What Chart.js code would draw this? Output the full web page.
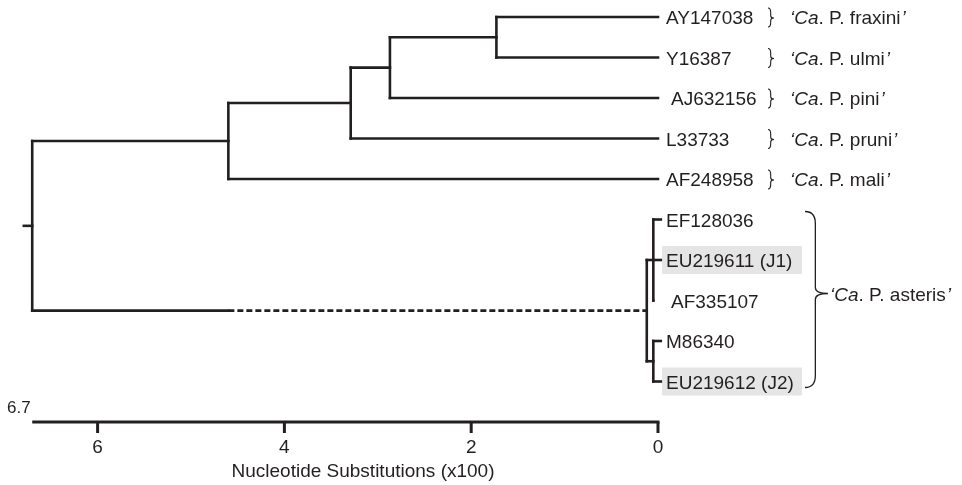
<!DOCTYPE html>
<html>
<head>
<meta charset="utf-8">
<script src="https://cdn.jsdelivr.net/npm/chart.js@4.4.1/dist/chart.umd.min.js"></script>
<style>
  body { margin: 0; background: #fff; }
  #wrap { width: 962px; height: 485px; position: relative; }
</style>
</head>
<body>
<div id="wrap"><canvas id="treeChart"></canvas></div>
<script>
// leaves, top to bottom (row index = y value)
const leafNames = ['AY147038', 'Y16387', 'AJ632156', 'L33733', 'AF248958',
                   'EF128036', 'EU219611 (J1)', 'AF335107', 'M86340', 'EU219612 (J2)'];
const leafDepth = [0, 0, 0, 0, 0, -0.03, -0.03, 0.05, -0.03, -0.03];
const leafParent = ['n4', 'n4', 'n3', 'n2', 'upper', 'astA', 'astA', 'astA', 'astB', 'astB'];

// internal nodes
const nodeNames = ['root', 'upper', 'n2', 'n3', 'n4', 'ast', 'astA', 'astB'];
const nodeDepth = [6.7, 4.6, 3.29, 2.87, 1.73, 0.12, 0.05, 0.05];
const nodeParent = [null, 'root', 'upper', 'n2', 'n3', 'root', 'ast', 'ast'];
const rootStubDepth = 6.79;
const dashedNode = 'ast';
const dashedFrom = 4.6;

const speciesRows = [0, 1, 2, 3, 4];
const speciesNames = ['fraxini', 'ulmi', 'pini', 'pruni', 'mali'];
const groupName = 'asteris';
const groupRows = [5, 9];
const highlightRows = [6, 9];

const axisTicks = [6, 4, 2, 0];
const axisMax = 6.7;
const axisTitle = 'Nucleotide Substitutions (x100)';

const INK = '#231f20';
const FONT = '"Liberation Sans", Arial, sans-serif';

function depthOf(name) { return nodeDepth[nodeNames.indexOf(name)]; }

function childrenOf(name) {
    const kids = [];
    leafParent.forEach((p, i) => { if (p === name) kids.push({name: leafNames[i], x: leafDepth[i], y: i}); });
    nodeParent.forEach((p, j) => { if (p === name) kids.push({name: nodeNames[j], x: nodeDepth[j], y: yOf(nodeNames[j])}); });
    return kids;
}

function yOf(name) {
    const ys = childrenOf(name).map(c => c.y);
    return (Math.min(...ys) + Math.max(...ys)) / 2;
}

// build branch segments
const segments = [];
nodeNames.forEach(name => {
    const kids = childrenOf(name);
    const ys = kids.map(c => c.y);
    const px = depthOf(name);
    segments.push({pts: [{x: px, y: Math.min(...ys)}, {x: px, y: Math.max(...ys)}]});
    kids.forEach(c => {
        if (c.name === dashedNode) {
            segments.push({pts: [{x: px, y: c.y}, {x: dashedFrom, y: c.y}]});
            segments.push({pts: [{x: dashedFrom, y: c.y}, {x: c.x, y: c.y}], dashed: true});
        } else {
            segments.push({pts: [{x: px, y: c.y}, {x: c.x, y: c.y}]});
        }
    });
});
const rootY = yOf('root');
segments.push({pts: [{x: rootStubDepth, y: rootY}, {x: depthOf('root'), y: rootY}]});

const datasets = segments.map(s => ({
    data: s.pts,
    showLine: true,
    borderColor: INK,
    borderWidth: 2.6,
    borderDash: s.dashed ? [6, 3] : [],
    borderCapStyle: s.dashed ? 'butt' : 'square',
    pointRadius: 0,
    fill: false
}));

function drawBrace(ctx, x, top, bottom, tip, w) {
    const vx = x + w * 0.45;
    const r = Math.min(12, (bottom - top) / 4);
    ctx.beginPath();
    ctx.moveTo(x, top);
    ctx.quadraticCurveTo(vx, top, vx, top + r);
    ctx.lineTo(vx, tip - r / 2);
    ctx.quadraticCurveTo(vx, tip, x + w, tip);
    ctx.quadraticCurveTo(vx, tip, vx, tip + r / 2);
    ctx.lineTo(vx, bottom - r);
    ctx.quadraticCurveTo(vx, bottom, x, bottom);
    ctx.stroke();
}

function drawSpecies(ctx, x, baseY, name) {
    ctx.textAlign = 'left';
    ctx.font = 'italic 19px ' + FONT;
    ctx.fillText('\u2018Ca', x, baseY);
    x += ctx.measureText('\u2018Ca').width;
    ctx.font = '19px ' + FONT;
    const mid = '. P. ' + name;
    ctx.fillText(mid, x, baseY);
    x += ctx.measureText(mid).width;
    ctx.font = 'italic 19px ' + FONT;
    ctx.fillText('\u2019', x + 1, baseY);
}

const treeDecor = {
    id: 'treeDecor',
    beforeDatasetsDraw(chart) {
        const {ctx, scales: {y}} = chart;
        ctx.save();
        ctx.fillStyle = '#e5e5e5';
        highlightRows.forEach(r => {
            const py = y.getPixelForValue(r);
            ctx.fillRect(662, py - 14, 140, 28);
        });
        ctx.restore();
    },
    afterDraw(chart) {
        const {ctx, chartArea, scales: {x, y}} = chart;
        ctx.save();
        ctx.fillStyle = INK;
        ctx.strokeStyle = INK;

        // leaf labels
        ctx.font = '19px ' + FONT;
        ctx.textAlign = 'left';
        ctx.textBaseline = 'alphabetic';
        leafNames.forEach((n, i) => {
            const indent = (i === 2 || i === 7) ? 5 : 0;
            ctx.fillText(n, 666 + indent, y.getPixelForValue(i) + 7);
        });

        // single-leaf species braces
        ctx.lineWidth = 1.1;
        speciesRows.forEach((r, k) => {
            const py = y.getPixelForValue(r);
            drawBrace(ctx, 768, py - 9, py + 10, py + 1, 6);
            drawSpecies(ctx, 790, py + 7, speciesNames[k]);
        });

        // group brace
        const gTop = y.getPixelForValue(groupRows[0]) - 8;
        const gBot = y.getPixelForValue(groupRows[1]) + 6;
        const gTip = y.getPixelForValue((groupRows[0] + groupRows[1]) / 2) - 7;
        ctx.lineWidth = 1.3;
        drawBrace(ctx, 805, gTop, gBot, gTip, 23);
        drawSpecies(ctx, 830, gTip + 7, groupName);

        // axis
        const ay = chartArea.bottom;
        ctx.lineWidth = 3;
        ctx.lineCap = 'butt';
        ctx.beginPath();
        ctx.moveTo(x.getPixelForValue(axisMax), ay);
        ctx.lineTo(x.getPixelForValue(0) + 1.5, ay);
        ctx.stroke();
        ctx.font = '19px ' + FONT;
        ctx.textAlign = 'center';
        axisTicks.forEach(v => {
            const px = x.getPixelForValue(v);
            ctx.beginPath();
            ctx.moveTo(px, ay);
            ctx.lineTo(px, ay + 11);
            ctx.stroke();
            ctx.fillText(String(v), px, ay + 31);
        });
        ctx.fillText(axisTitle, 363, ay + 55);

        ctx.font = '17px ' + FONT;
        ctx.textAlign = 'left';
        ctx.fillText(String(axisMax), 7, ay - 9);
        ctx.restore();
    }
};

new Chart(document.getElementById('treeChart'), {
    type: 'scatter',
    data: {datasets: datasets},
    options: {
        responsive: true,
        maintainAspectRatio: false,
        animation: false,
        layout: {padding: {left: 0, right: 0, top: 0, bottom: 63}},
        plugins: {legend: {display: false}, tooltip: {enabled: false}},
        scales: {
            x: {type: 'linear', reverse: true, min: -3.255, max: 7.045, display: false},
            y: {type: 'linear', reverse: true, min: -0.42, max: 10, display: false}
        }
    },
    plugins: [treeDecor]
});
</script>
</body>
</html>
